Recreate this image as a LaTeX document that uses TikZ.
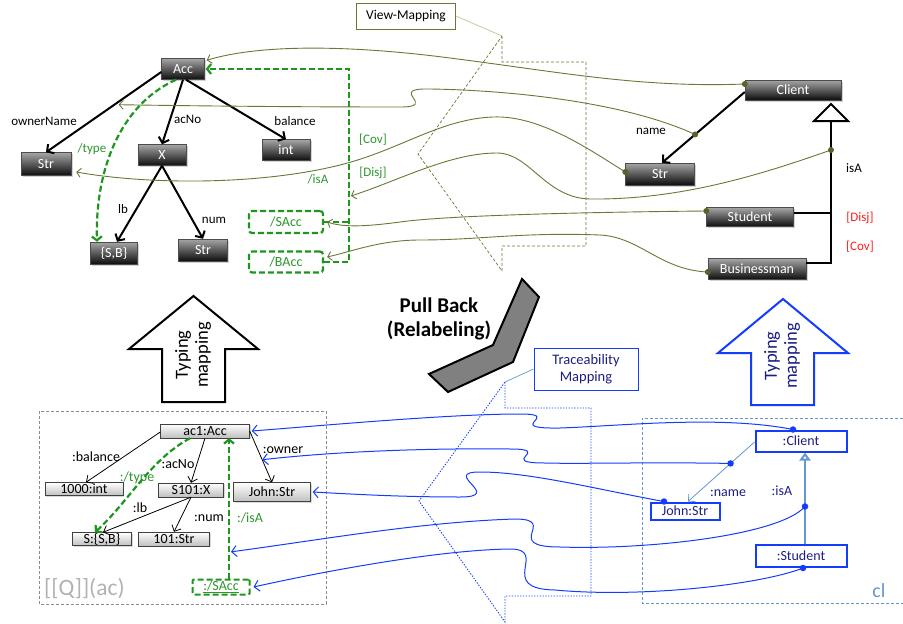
\documentclass[tikz,border=0pt]{standalone}
\usepackage{fontspec}
\setmainfont{Carlito}
\usetikzlibrary{arrows.meta,shadows,calc}
\definecolor{olv}{RGB}{105,120,55}
\definecolor{olvdot}{RGB}{85,100,40}
\definecolor{olvlight}{RGB}{185,200,140}
\definecolor{grn}{RGB}{30,150,30}
\definecolor{grntxt}{RGB}{45,150,45}
\definecolor{blu}{RGB}{20,60,255}
\definecolor{navy}{RGB}{30,30,130}
\definecolor{lblu}{RGB}{100,150,210}
\definecolor{redd}{RGB}{255,30,30}
\newcommand{\myfs}[1]{\fontsize{#1}{#1}\selectfont}
\tikzset{
  darkbox/.style={draw=black!70, top color=black!35, bottom color=black!95, text=white, font=\myfs{14}, inner sep=0pt, minimum height=21pt, drop shadow={shadow xshift=1.5pt,shadow yshift=-1.5pt,opacity=0.35}},
  lightbox/.style={draw=black!75, top color=white, bottom color=black!25, font=\myfs{14}, inner sep=0pt, minimum height=14pt, drop shadow={shadow xshift=1pt,shadow yshift=-1pt,opacity=0.3}},
  gbox/.style={draw=grn, line width=2.2pt, dash pattern=on 6pt off 3pt, rounded corners=3pt, text=grntxt, font=\myfs{14}, inner sep=0pt, fill=white},
  bbox/.style={draw=blu, line width=2pt, fill=white, text=navy, font=\myfs{14}, inner sep=0pt},
  metaedge/.style={draw=black, line width=2pt, -{Straight Barb[length=5pt,width=11pt]}},
  iedge/.style={draw=black, line width=0.8pt, -{Straight Barb[length=5pt,width=10pt]}},
  gline/.style={draw=grn, line width=2.2pt, dash pattern=on 6pt off 3pt, -{Straight Barb[length=4pt,width=10pt]}},
  olvline/.style={draw=olv, line width=0.9pt, -{Straight Barb[length=4pt,width=9pt]}},
  bline/.style={draw=blu, line width=1pt, -{Straight Barb[length=5pt,width=11pt]}},
  odot/.style={circle, fill=olvdot, inner sep=0pt, minimum size=6pt},
  bdot/.style={circle, fill=blu, inner sep=0pt, minimum size=6.5pt},
  lbl/.style={font=\myfs{13}, inner sep=0pt},
  ilbl/.style={font=\myfs{14}, inner sep=0pt},
}
\begin{document}
\begin{tikzpicture}[x=1pt,y=-1pt]
\useasboundingbox (0,0) rectangle (903,624);

% ---------- callout shapes ----------
\draw[olv, line width=0.7pt, dash pattern=on 3pt off 2pt] (502,36) -- (502,62) -- (586,62) -- (586,246) -- (502,246) -- (502,271) -- (418,154) -- cycle;
\coordinate (vmtip) at (502,36);
\node[draw=olv, fill=white, line width=0.8pt, minimum width=99pt, minimum height=26pt, inner sep=0pt, font=\myfs{13.5}] (VM) at (406,16) {View-Mapping};
\draw[olvlight, line width=0.7pt] (VM.east) -- (vmtip);

\draw[blu, line width=0.9pt, dash pattern=on 1.3pt off 1.5pt] (505,382) -- (505,408) -- (591,408) -- (591,596) -- (505,596) -- (505,622) -- (419,501) -- cycle;
\coordinate (tmtip) at (505,382);
\node[draw=blu, fill=white, line width=0.8pt, minimum width=104pt, minimum height=42pt, inner sep=0pt, align=center, text=navy, font=\fontsize{14.5}{17}\selectfont] (TM) at (586,369) {Traceability\\Mapping};
\draw[lblu, line width=0.7pt] (TM.west) -- (tmtip);

% ---------- Pull back ----------
\draw[line width=2pt, fill=black!50, line join=miter] (522,279) -- (539,297) -- (513,362) -- (448,392) -- (429,374) -- (493,345) -- cycle;
\node[font=\bfseries\fontsize{21}{24}\selectfont, align=center, inner sep=0pt] (PB) at (439,319) {Pull Back\\(Relabeling)};

% ---------- Typing arrows ----------
\draw[line width=2pt, fill=white, line join=miter] (162,402) -- (162,349) -- (129,349) -- (193.5,296) -- (258,349) -- (225,349) -- (225,402) -- cycle;
\node[rotate=90, align=center, font=\fontsize{18.5}{20}\selectfont, inner sep=0pt] (TY1) at (193,355) {Typing\\mapping};
\draw[blu, line width=2pt, fill=white, line join=miter] (751,405) -- (751,353) -- (718,353) -- (783,299) -- (848,353) -- (814,353) -- (814,405) -- cycle;
\node[rotate=90, align=center, text=navy, font=\fontsize{18.5}{20}\selectfont, inner sep=0pt] (TY2) at (782,356) {Typing\\mapping};

% ---------- top-left metamodel ----------
\node[darkbox, minimum width=43pt] (Acc) at (183,69) {Acc};
\node[darkbox, minimum width=50pt, minimum height=23pt] (StrL) at (46,164) {Str};
\node[darkbox, minimum width=48pt] (X) at (162,155) {X};
\node[darkbox, minimum width=48pt] (int) at (286,150) {int};
\node[darkbox, minimum width=47pt, minimum height=22pt] (SB) at (114,253) {\{S,B\}};
\node[darkbox, minimum width=49pt, minimum height=22pt] (StrN) at (203,250) {Str};
\node[gbox, minimum width=74pt, minimum height=22pt] (SAcc) at (286,222) {/SAcc};
\node[gbox, minimum width=74pt, minimum height=21pt] (BAcc) at (286,262) {/BAcc};

\draw[metaedge] ([yshift=-3pt]Acc.west) -- coordinate[pos=0.37] (eON) (StrL.north);
\draw[metaedge] (Acc.south) -- (X.north);
\draw[metaedge] ([xshift=3pt]Acc.south) -- (int.north);
\draw[metaedge] (X.south) -- ([xshift=3pt]SB.north);
\draw[metaedge] (X.south) -- (StrN.north);
\draw[gline] ([xshift=-7pt]Acc.south) .. controls (120,105) and (95,170) .. ([xshift=-17pt]SB.north);
\coordinate (gv) at (349,69);
\coordinate (eIsA) at (351,196);
\draw[gline] (BAcc.east) -| (gv) -- ([xshift=1pt]Acc.east);
\draw[draw=grn, line width=2.2pt, dash pattern=on 6pt off 3pt] (SAcc.east) -- (SAcc.east -| gv);

\node[lbl] (lON) at (44,121) {ownerName};
\node[lbl, anchor=west] (lacNo) at (174,119) {acNo};
\node[lbl] (lbal) at (295,121) {balance};
\node[lbl] (llb) at (123,209) {lb};
\node[lbl] (lnum) at (214,220) {num};
\node[lbl, text=grntxt] (ltype) at (92,149) {/type};
\node[lbl, text=grntxt] (lisA) at (318,179) {/isA};
\node[lbl, text=grntxt] (lCov) at (373,140) {[Cov]};
\node[lbl, text=grntxt] (lDisj) at (373,173) {[Disj]};

% ---------- top-right metamodel ----------
\node[darkbox, minimum width=96pt, minimum height=20pt] (Client) at (793,90) {Client};
\node[darkbox, minimum width=69pt, minimum height=22pt] (StrR) at (660,174) {Str};
\node[darkbox, minimum width=87pt, minimum height=19pt] (Student) at (750,217) {Student};
\node[darkbox, minimum width=98pt, minimum height=21pt] (Bman) at (757,269) {Businessman};

\draw[metaedge] ([yshift=-2pt]Client.west) -- coordinate[pos=0.6] (dn) ([xshift=2pt]StrR.north);
\coordinate (gtip) at (831,104);
\coordinate (gbase) at (831,121);
\coordinate (sj) at (831,213);
\draw[line width=2pt, fill=white, line join=miter] (gtip) -- (814,121) -- (848,121) -- cycle;
\draw[line width=2pt] ([yshift=6pt]Bman.east) -| (gbase);
\draw[line width=2pt] ([yshift=4pt]Student.east) -- (sj);
\coordinate (disA) at (831,150);

\node[lbl] (lname) at (651,131) {name};
\node[lbl] (lisA2) at (854,168) {isA};
\node[lbl, text=redd] (lDisj2) at (860,218) {[Disj]};
\node[lbl, text=redd] (lCov2) at (860,247) {[Cov]};

% ---------- olive view mapping curves ----------
\coordinate (dC) at ([yshift=6pt]Client.west);
\coordinate (dS) at ([yshift=2pt]StrR.west);
\coordinate (dSt) at ([yshift=6pt]Student.west);
\coordinate (dB) at ([yshift=-3pt]Bman.west);
\draw[olvline] (dC) .. controls (640,88) and (560,72) .. (450,58) .. controls (350,45) and (260,44) .. ([xshift=2pt,yshift=-2pt]Acc.north east);
\draw[olvline] (dn) .. controls (620,100) and (500,90) .. (430,89) .. controls (385,88) and (440,107) .. (400,107) .. controls (300,107) and (200,106) .. ([yshift=-3pt]eON);
\draw[olvline] (dS) .. controls (590,150) and (540,115) .. (493,117) .. controls (440,119) and (400,150) .. (340,165) .. controls (260,185) and (150,185) .. ([xshift=5pt,yshift=-8pt]StrL.east);
\draw[olvline] (disA) .. controls (760,175) and (680,200) .. (590,199) .. controls (545,198) and (530,153) .. (497,153) .. controls (450,153) and (400,180) .. (eIsA);
\draw[olvline] (dSt) .. controls (600,212) and (450,215) .. (400,222) .. controls (370,226) and (345,228) .. ([xshift=3pt]SAcc.east);
\draw[olvline] (dB) .. controls (660,270) and (640,237) .. (600,235) .. controls (520,232) and (480,240) .. (420,240) .. controls (380,240) and (350,252) .. ([xshift=3pt,yshift=5pt]BAcc.east);
\node[odot] (dCn) at (dC) {};
\node[odot] (dnn) at (dn) {};
\node[odot] (dSn) at (dS) {};
\node[odot] (disAn) at (disA) {};
\node[odot] (dStn) at (dSt) {};
\node[odot] (dBn) at (dB) {};

% ---------- lower-left instance ----------
\draw[black!45, line width=0.8pt, dash pattern=on 3pt off 2pt] (39,411) rectangle (326,604);
\node[anchor=west, text=black!30, font=\myfs{23.5}, inner sep=0pt] (Ql) at (44,589) {[[Q]](ac)};
\node[lightbox, minimum width=89pt] (ac1) at (205,431) {ac1:Acc};
\node[lightbox, minimum width=78pt, minimum height=13pt] (i1000) at (84,489) {1000:int};
\node[lightbox, minimum width=65pt] (s101) at (191,490) {S101:X};
\node[lightbox, minimum width=77pt, minimum height=19pt] (john) at (272,492) {John:Str};
\node[lightbox, minimum width=59pt, minimum height=13pt] (ssb) at (102,539) {S:\{S,B\}};
\node[lightbox, minimum width=71pt] (i101) at (174,539) {101:Str};
\node[gbox, minimum width=57pt, minimum height=15pt, rounded corners=1pt, line width=2pt] (isacc) at (221,587) {\underline{:/SAcc}};

\draw[iedge] ([yshift=-1pt]ac1.west) -- ([xshift=2pt]i1000.north);
\draw[iedge] (ac1.south) -- (s101.north);
\draw[iedge] (ac1.east) -- coordinate[pos=0.56] (eOw) (john.north);
\draw[iedge] (s101.south) -- ([xshift=1pt]ssb.north);
\draw[iedge] (s101.south) -- (i101.north);
\draw[gline] ([xshift=-15pt]ac1.south) .. controls (150,460) and (130,500) .. ([xshift=-7pt]ssb.north);
\draw[gline] ([xshift=8pt]isacc.north) -- coordinate[pos=0.19] (eIs2) ([xshift=24pt]ac1.south);

\node[ilbl] (lbal2) at (96,457) {:balance};
\node[ilbl] (lacNo2) at (178,464) {:acNo};
\node[ilbl] (lowner) at (283,450) {:owner};
\node[ilbl] (llb2) at (140,508) {:lb};
\node[ilbl] (lnum2) at (209,518) {:num};
\node[ilbl, text=grntxt] (ltype2) at (137,478) {:/type};
\node[ilbl, text=grntxt] (lisA3) at (250,518) {:/isA};

% ---------- lower-right instance ----------
\draw[lblu, line width=0.8pt, dash pattern=on 3pt off 2pt] (903,418) -- (642,418) -- (642,603) -- (903,603);
\node[text=lblu, font=\myfs{20}, inner sep=0pt] (cl) at (879,591) {cl};
\node[bbox, minimum width=91pt, minimum height=21pt] (cC) at (801,441) {:Client};
\node[bbox, minimum width=69pt, minimum height=17pt] (cJ) at (685,511) {John:Str};
\node[bbox, minimum width=91pt, minimum height=22pt] (cS) at (801,556) {:Student};
\draw[lblu, line width=0.8pt, -{Straight Barb[length=5pt,width=10pt]}] ([yshift=-1pt]cC.west) -- coordinate[pos=0.36] (dn2) ([xshift=3pt]cJ.north);
\draw[lblu, line width=2.5pt, -{Triangle[open, length=8pt, width=11pt, line width=2pt]}] ([xshift=4pt]cS.north) -- coordinate[pos=0.41] (dI) ([xshift=4pt]cC.south);
\node[ilbl, text=navy] (lname2) at (728,493) {:name};
\node[ilbl, text=navy] (lisA4) at (782,491) {:isA};

% ---------- blue traceability curves ----------
\coordinate (dcC) at ([xshift=-8pt]cC.north);
\coordinate (dJ) at ([xshift=-21pt]cJ.north);
\coordinate (dSt2) at ([xshift=2pt]cS.south);
\draw[bline] (dcC) .. controls (720,415) and (620,426) .. (560,428) .. controls (500,429) and (565,414) .. (520,414) .. controls (450,414) and (330,425) .. ([xshift=2pt]ac1.east);
\draw[bline] (dn2) .. controls (650,462) and (580,464) .. (545,463) .. controls (495,463) and (555,449) .. (510,449) .. controls (420,448) and (330,452) .. (eOw);
\draw[bline] (dJ) .. controls (600,490) and (530,472) .. (480,472) .. controls (440,472) and (505,497) .. (460,497) .. controls (400,497) and (350,494) .. ([xshift=2pt]john.east);
\draw[bline] (dI) .. controls (780,535) and (650,550) .. (560,547) .. controls (500,547) and (560,519) .. (515,519) .. controls (420,522) and (320,540) .. ([xshift=2pt]eIs2);
\draw[bline] (dSt2) .. controls (760,585) and (640,598) .. (555,590) .. controls (495,589) and (550,549) .. (510,549) .. controls (440,550) and (330,570) .. ([xshift=3pt]isacc.east);
\node[bdot] (dcCn) at (dcC) {};
\node[bdot] (dn2n) at (dn2) {};
\node[bdot] (dJn) at (dJ) {};
\node[bdot] (dIn) at (dI) {};
\node[bdot] (dSt2n) at (dSt2) {};
\end{tikzpicture}
\end{document}
